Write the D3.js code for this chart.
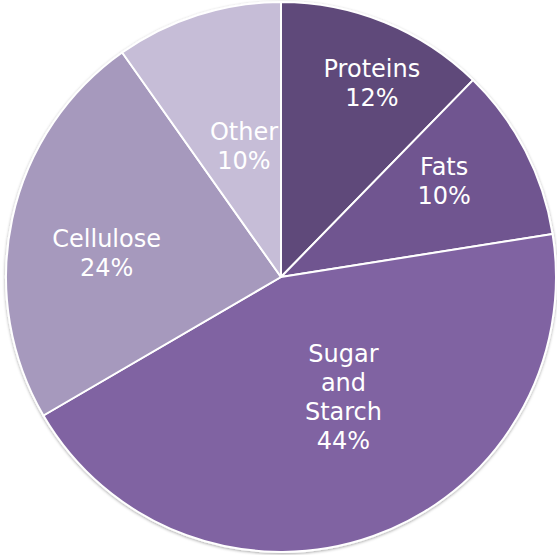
<!DOCTYPE html>
<html><head><meta charset="utf-8">
<script src="https://cdn.jsdelivr.net/npm/d3@7"></script>
<style>html,body{margin:0;padding:0;background:#fff;}svg{display:block;}</style>
</head><body>
<script>
const categories = ["Proteins", "Fats", "Sugar and Starch", "Cellulose", "Other"];
const values = [12.3, 10.2, 44.1, 23.6, 9.8];
const labelLines = [["Proteins"], ["Fats"], ["Sugar", "and", "Starch"], ["Cellulose"], ["Other"]];
const colors = ["#5f497a", "#705590", "#8064a2", "#a699bd", "#c6bdd7"];
// label placement: [angle shift (deg), radius fraction]
const labelPlace = [[3.0, 0.778], [-2.9, 0.687], [-7.7, 0.495], [-4.5, 0.64], [1.8, 0.493]];

const W = 557, H = 555, cx = 281, cy = 277, R = 275;
const svg = d3.select("body").append("svg").attr("width", W).attr("height", H);
const defs = svg.append("defs");
const f = defs.append("filter").attr("id", "sh").attr("x", "-10%").attr("y", "-10%").attr("width", "120%").attr("height", "120%");
f.append("feDropShadow").attr("dx", 0).attr("dy", 1).attr("stdDeviation", 1.5).attr("flood-color", "#000").attr("flood-opacity", 0.35);

const g = svg.append("g").attr("transform", `translate(${cx},${cy})`);
const pie = d3.pie().sort(null).value(d => d)(values);
const arc = d3.arc().innerRadius(0).outerRadius(R);
const total = d3.sum(values);

g.append("g").attr("filter", "url(#sh)")
  .selectAll("path").data(pie).join("path")
  .attr("d", arc).attr("fill", (d, i) => colors[i])
  .attr("stroke", "#fff").attr("stroke-width", 2).attr("stroke-linejoin", "round");

const lh = 29;
pie.forEach((d, i) => {
  const a = (d.startAngle + d.endAngle) / 2 + labelPlace[i][0] * Math.PI / 180;
  const r = labelPlace[i][1] * R;
  const x = r * Math.sin(a), y = -r * Math.cos(a);
  const lines = labelLines[i].concat([Math.round(d.value / total * 100) + "%"]);
  const n = lines.length;
  const t = g.append("text").attr("text-anchor", "middle")
    .attr("font-family", "'DejaVu Sans', Verdana, sans-serif").attr("font-size", 24)
    .attr("fill", "#fff");
  lines.forEach((ln, k) => {
    t.append("tspan").attr("x", x).attr("y", y + (k - (n - 1) / 2) * lh + 8).text(ln);
  });
});
</script>
</body></html>
